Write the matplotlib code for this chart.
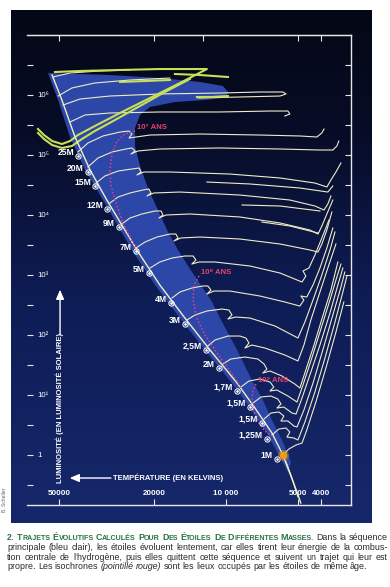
import numpy as np
import matplotlib
matplotlib.use("Agg")
import matplotlib.pyplot as plt
from matplotlib.patches import Polygon
from matplotlib import font_manager as fm

W, H, DPI = 390, 587, 100

# ---------------- data : log10 Teff [K] , log10 L [L_sun] ----------------
ZAMS_T = [4.728, 4.687, 4.632, 4.569, 4.499, 4.373, 4.277, 4.172, 4.067, 3.954, 3.879, 3.808, 3.762, 3.703, 3.687]
ZAMS_L = [6.333, 5.917, 5.300, 4.750, 4.250, 3.417, 2.833, 2.283, 1.750, 1.200, 0.783, 0.367, 0.000, -0.617, -0.800]

LOW_T = [3.749, 3.724, 3.699]
LOW_L = [-0.117, -0.383, -0.700]

BAND_T = [4.745, 4.703, 4.653, 4.590, 4.515, 4.394, 4.297, 4.193, 4.088, 3.975, 3.900, 3.829, 3.779, 3.741,
          3.728, 3.766, 3.808, 3.846, 3.892, 3.954, 4.021, 4.063, 4.109, 4.159, 4.201, 4.243, 4.285, 4.327,
          4.360, 4.381, 4.381, 4.360, 4.318, 4.214, 4.088, 4.017, 3.988, 4.013, 4.109, 4.277, 4.486]
BAND_L = [6.367, 5.917, 5.300, 4.750, 4.250, 3.417, 2.833, 2.283, 1.750, 1.200, 0.783, 0.367, 0.000, -0.283,
          -0.117, 0.250, 0.583, 0.917, 1.250, 1.750, 2.250, 2.583, 2.850, 3.150, 3.417, 3.717, 4.083, 4.450,
          4.817, 5.150, 5.450, 5.667, 5.800, 5.883, 5.917, 5.950, 6.033, 6.150, 6.217, 6.283, 6.333]

TOP1_T = [4.724, 4.653, 4.528, 4.402]
TOP1_L = [6.300, 6.367, 6.400, 6.417]
TOP2_T = [4.703, 4.645, 4.549, 4.402, 4.235]
TOP2_L = [5.983, 6.117, 6.200, 6.250, 6.283]
TOP3_T = [4.682, 4.611, 4.486, 4.277, 4.026, 3.858, 3.762, 3.749, 3.774, 3.942, 4.118]
TOP3_L = [5.833, 5.933, 5.983, 6.017, 6.033, 6.050, 6.050, 6.017, 5.983, 5.967, 5.950]
TOP4_T = [4.653, 4.590, 4.486, 4.277, 4.026, 3.816, 3.741, 3.733, 3.754]
TOP4_L = [5.550, 5.667, 5.700, 5.717, 5.717, 5.733, 5.733, 5.683, 5.650]

M25_T = [4.620, 4.578, 4.515, 4.444, 4.406, 4.394, 4.406, 4.377, 4.318, 4.109, 3.858, 3.691, 3.620, 3.599, 3.590]
M25_L = [5.050, 5.200, 5.317, 5.383, 5.400, 5.350, 5.283, 5.300, 5.333, 5.350, 5.333, 5.317, 5.300, 5.367, 5.433]
M20_T = [4.578, 4.536, 4.477, 4.419, 4.394, 4.381, 4.398, 4.369, 4.277, 4.026, 3.774, 3.607, 3.553, 3.536, 3.528]
M20_L = [4.800, 4.950, 5.050, 5.100, 5.117, 5.067, 5.017, 5.067, 5.100, 5.117, 5.100, 5.083, 5.083, 5.150, 5.233]
M15_T = [4.544, 4.507, 4.452, 4.394, 4.364, 4.356, 4.373, 4.344, 4.235, 3.984, 3.774, 3.628, 3.578, 3.561, 3.540, 3.519]
M15_L = [4.533, 4.650, 4.733, 4.767, 4.783, 4.717, 4.667, 4.717, 4.717, 4.683, 4.617, 4.533, 4.467, 4.583, 4.717, 4.867]
LOOP15_T = [4.080, 3.900, 3.691, 3.574, 3.553]
LOOP15_L = [4.550, 4.517, 4.450, 4.383, 4.483]
M12_T = [4.486, 4.452, 4.402, 4.348, 4.323, 4.314, 4.331, 4.302, 4.193, 3.942, 3.733, 3.628, 3.590, 3.574, 3.561]
M12_L = [4.200, 4.300, 4.367, 4.417, 4.433, 4.367, 4.317, 4.367, 4.383, 4.333, 4.250, 4.150, 4.083, 4.183, 4.317]
LOOP12_T = [3.933, 3.774, 3.607]
LOOP12_L = [4.167, 4.150, 4.067]
M9_T = [4.436, 4.402, 4.352, 4.297, 4.272, 4.264, 4.281, 4.251, 4.151, 3.942, 3.774, 3.649, 3.615, 3.599, 3.578, 3.553]
M9_L = [3.850, 3.950, 4.017, 4.067, 4.067, 4.000, 3.950, 4.000, 4.017, 3.967, 3.867, 3.750, 3.683, 3.817, 4.017, 4.250]
LOOP9_T = [3.850, 3.733, 3.615]
LOOP9_L = [3.883, 3.817, 3.700]
M7_T = [4.377, 4.339, 4.289, 4.235, 4.210, 4.201, 4.218, 4.189, 4.109, 3.942, 3.774, 3.649, 3.615, 3.599, 3.578, 3.557]
M7_L = [3.450, 3.550, 3.633, 3.683, 3.683, 3.617, 3.567, 3.617, 3.633, 3.600, 3.517, 3.417, 3.383, 3.517, 3.750, 4.050]
M5_T = [4.318, 4.277, 4.226, 4.172, 4.138, 4.126, 4.143, 4.113, 4.046, 3.900, 3.774, 3.682, 3.666, 3.678, 3.653, 3.628, 3.599, 3.569]
M5_L = [3.117, 3.217, 3.283, 3.317, 3.317, 3.250, 3.183, 3.217, 3.217, 3.150, 3.033, 2.883, 2.983, 3.067, 3.117, 3.333, 3.617, 3.917]
M4_T = [4.226, 4.193, 4.143, 4.097, 4.076, 4.063, 4.080, 4.051, 3.984, 3.858, 3.754, 3.691, 3.674, 3.687, 3.662, 3.636, 3.607, 3.578, 3.553]
M4_L = [2.617, 2.717, 2.783, 2.817, 2.817, 2.750, 2.683, 2.733, 2.733, 2.650, 2.550, 2.483, 2.583, 2.650, 2.633, 2.833, 3.117, 3.450, 3.783]
M3_T = [4.164, 4.130, 4.080, 4.017, 3.988, 3.975, 3.992, 3.959, 3.900, 3.795, 3.699, 3.670, 3.636, 3.599, 3.565, 3.544]
M3_L = [2.250, 2.333, 2.400, 2.433, 2.417, 2.333, 2.267, 2.300, 2.283, 2.150, 1.950, 2.217, 2.583, 3.000, 3.417, 3.717]
M2_5_T = [4.076, 4.046, 3.992, 3.942, 3.917, 3.904, 3.921, 3.892, 3.837, 3.754, 3.699, 3.674, 3.645, 3.607, 3.574, 3.540]
M2_5_L = [1.817, 1.917, 1.983, 1.983, 1.950, 1.867, 1.783, 1.833, 1.783, 1.667, 1.567, 1.833, 2.250, 2.717, 3.117, 3.517]
M2_T = [4.013, 3.980, 3.921, 3.867, 3.841, 3.829, 3.846, 3.816, 3.766, 3.712, 3.691, 3.666, 3.632, 3.595, 3.561, 3.532]
M2_L = [1.517, 1.600, 1.633, 1.600, 1.517, 1.433, 1.367, 1.400, 1.317, 1.183, 1.117, 1.417, 1.833, 2.317, 2.750, 3.217]
M1_7_T = [3.938, 3.904, 3.858, 3.816, 3.800, 3.816, 3.787, 3.741, 3.703, 3.678, 3.641, 3.607, 3.569, 3.540, 3.519]
M1_7_L = [1.133, 1.233, 1.267, 1.217, 1.133, 1.067, 1.083, 0.983, 0.883, 1.167, 1.617, 2.050, 2.533, 2.917, 3.183]
M1_5A_T = [3.887, 3.854, 3.812, 3.783, 3.770, 3.787, 3.758, 3.724, 3.707, 3.682, 3.645, 3.607, 3.565, 3.532, 3.511]
M1_5A_L = [0.867, 0.967, 0.983, 0.933, 0.850, 0.783, 0.800, 0.700, 0.683, 0.950, 1.383, 1.833, 2.367, 2.833, 3.117]
M1_5B_T = [3.841, 3.812, 3.779, 3.758, 3.770, 3.741, 3.716, 3.703, 3.674, 3.636, 3.595, 3.553, 3.519, 3.503]
M1_5B_L = [0.600, 0.700, 0.717, 0.650, 0.567, 0.567, 0.483, 0.467, 0.750, 1.200, 1.750, 2.333, 2.800, 3.050]
M1_25_T = [3.808, 3.779, 3.749, 3.733, 3.745, 3.716, 3.699, 3.670, 3.628, 3.586, 3.544, 3.511, 3.494]
M1_25_L = [0.333, 0.433, 0.450, 0.383, 0.300, 0.283, 0.250, 0.550, 1.050, 1.617, 2.217, 2.717, 2.983]
M1_T = [3.762, 3.737, 3.707, 3.682, 3.662, 3.624, 3.582, 3.540, 3.507]
M1_L = [0.000, 0.100, 0.167, 0.200, 0.417, 0.883, 1.450, 2.050, 2.550]

YG1_T = [4.716, 4.611, 4.444, 4.277, 4.080, 4.193, 4.318, 4.444, 4.549, 4.620, 4.653, 4.687, 4.728, 4.762, 4.787]
YG1_L = [6.383, 6.400, 6.417, 6.433, 6.433, 6.200, 5.950, 5.700, 5.483, 5.333, 5.233, 5.183, 5.233, 5.333, 5.433]
YG2_T = [4.151, 4.256, 4.360, 4.465, 4.549, 4.603, 4.645, 4.687, 4.728, 4.762, 4.787]
YG2_L = [6.267, 6.050, 5.817, 5.583, 5.400, 5.267, 5.150, 5.117, 5.167, 5.267, 5.367]
YG3_T = [4.444, 4.339, 4.235]
YG3_L = [6.217, 6.233, 6.250]
YG4_T = [4.122, 4.059, 3.992]
YG4_L = [5.967, 5.967, 5.983]
YG5_T = [4.214, 4.109, 3.992]
YG5_L = [6.350, 6.333, 6.300]

ISO7_T = [4.381, 4.423, 4.456, 4.477, 4.486, 4.482, 4.465, 4.431, 4.390, 4.369]
ISO7_L = [5.400, 5.350, 5.233, 5.033, 4.750, 4.500, 4.250, 3.867, 3.533, 3.383]
ISO8_T = [4.113, 4.134, 4.138, 4.122, 4.088, 4.046, 4.005, 3.963, 3.938]
ISO8_L = [2.983, 2.833, 2.583, 2.283, 2.000, 1.750, 1.517, 1.283, 1.117]
ISO9_T = [3.875, 3.887, 3.892, 3.883, 3.862, 3.837, 3.808]
ISO9_L = [1.183, 1.067, 0.917, 0.717, 0.533, 0.400, 0.317]
ISO_LABELS = ["10\u2077 ANS", "10\u2078 ANS", "10\u2079 ANS"]

MASS_LABELS = ["25M", "20M", "15M", "12M", "9M", "7M", "5M", "4M", "3M", "2,5M", "2M", "1,7M",
               "1,5M", "1,5M", "1,25M", "1M"]
MASS_T = [4.620, 4.578, 4.549, 4.498, 4.448, 4.377, 4.322, 4.230, 4.172, 4.084, 4.030, 3.954,
          3.900, 3.850, 3.829, 3.787]
MASS_L = [4.983, 4.717, 4.483, 4.100, 3.800, 3.400, 3.033, 2.533, 2.183, 1.750, 1.450, 1.067,
          0.800, 0.533, 0.267, -0.067]
SUN_T, SUN_L = [3.762], [0.0]

XTICK_K = [50000, 20000, 10000, 5000, 4000]
XTICK_LABELS = ["50000", "20000", "10 000", "5000", "4000"]
XTOP_K = [50000, 20000, 12500, 5000, 4000]
YTICK_EXP = [0, 1, 2, 3, 4, 5, 6]
YTICK_LABELS = ["1", "10\u00b9", "10\u00b2", "10\u00b3", "10\u2074", "10\u2075", "10\u2076"]

# ---------------- fonts ----------------
names = {f.name for f in fm.fontManager.ttflist}
NARROW = "Liberation Sans Narrow" if "Liberation Sans Narrow" in names else "Liberation Sans"
LAB_FONT = [NARROW, "DejaVu Sans"]

# ---------------- figure ----------------
fig = plt.figure(figsize=(W / DPI, H / DPI), dpi=DPI, facecolor="white")

# dark panel background (gradient)
bg = fig.add_axes([11 / W, 1 - 523 / H, 361 / W, 513 / H])
stops = np.array([0.0, 0.25, 0.55, 1.0])
cols = np.array([[4, 7, 20], [7, 13, 40], [14, 28, 84], [22, 40, 108]]) / 255.0
yy = np.linspace(0, 1, 256)
grad = np.stack([np.interp(yy, stops, cols[:, k]) for k in range(3)], axis=1)
bg.imshow(grad[:, None, :], aspect="auto", extent=[0, 1, 1, 0])
bg.set_xlim(0, 1); bg.set_ylim(1, 0)
bg.axis("off")

ax = fig.add_axes([27 / W, 1 - 505 / H, 324 / W, 470 / H])
ax.set_facecolor("none")
ax.set_xlim(4.833, 3.477)
ax.set_ylim(-0.833, 7.0)

# main-sequence band
ax.add_patch(Polygon(np.column_stack([BAND_T, BAND_L]), closed=True,
                     facecolor="#2c47a8", edgecolor="none", zorder=1))

TRACK_C = "#eeebc8"
tracks = [(TOP1_T, TOP1_L), (TOP2_T, TOP2_L), (TOP3_T, TOP3_L), (TOP4_T, TOP4_L),
          (M25_T, M25_L), (M20_T, M20_L), (M15_T, M15_L), (LOOP15_T, LOOP15_L),
          (M12_T, M12_L), (LOOP12_T, LOOP12_L), (M9_T, M9_L), (LOOP9_T, LOOP9_L),
          (M7_T, M7_L), (M5_T, M5_L), (M4_T, M4_L), (M3_T, M3_L), (M2_5_T, M2_5_L),
          (M2_T, M2_L), (M1_7_T, M1_7_L), (M1_5A_T, M1_5A_L), (M1_5B_T, M1_5B_L),
          (M1_25_T, M1_25_L), (M1_T, M1_L), (LOW_T, LOW_L)]
for t, l in tracks:
    ax.plot(t, l, color=TRACK_C, lw=0.8, solid_joinstyle="round", zorder=3)

YG_C = "#c9df55"
for t, l in [(YG1_T, YG1_L), (YG2_T, YG2_L), (YG3_T, YG3_L), (YG4_T, YG4_L), (YG5_T, YG5_L)]:
    ax.plot(t, l, color=YG_C, lw=1.5, solid_joinstyle="round", zorder=4)

ax.plot(ZAMS_T, ZAMS_L, color="#f1efc0", lw=1.0, zorder=4)

ISO_C = "#e0408e"
for (t, l), lab in zip([(ISO7_T, ISO7_L), (ISO8_T, ISO8_L), (ISO9_T, ISO9_L)], ISO_LABELS):
    ax.plot(t, l, color=ISO_C, lw=1.1, ls=(0, (1, 1.4)), zorder=5)
    ax.annotate(lab, (t[0], l[0]), xytext=(1.5, 2.2), textcoords="offset points",
                ha="left", va="center", color="#e8406e", fontsize=5.6,
                fontweight="bold", family=LAB_FONT, zorder=8)

# mass markers
ax.plot(MASS_T, MASS_L, ls="none", marker="o", ms=3.8, mfc="none", mec="white", mew=0.7, zorder=6)
ax.plot(MASS_T, MASS_L, ls="none", marker="o", ms=0.9, mfc="white", mec="white", zorder=6)
for t, l, lab in zip(MASS_T, MASS_L, MASS_LABELS):
    ax.annotate(lab, (t, l), xytext=(-2.8, 2.6), textcoords="offset points", ha="right",
                va="center", color="white", fontsize=6.2, fontweight="bold",
                family=LAB_FONT, zorder=8)

# the Sun
ax.plot(SUN_T, SUN_L, ls="none", marker="o", ms=8, color="#ffb21a", alpha=0.35, mew=0, zorder=7)
ax.plot(SUN_T, SUN_L, ls="none", marker="o", ms=5.2, color="#f79a0c", mew=0, zorder=7)

# axes frame & ticks
for s in ["top", "bottom", "right"]:
    ax.spines[s].set_color("#e6e6e6")
    ax.spines[s].set_linewidth(1.0)
ax.spines["left"].set_visible(False)
ax.set_xticks(np.log10(XTICK_K))
ax.set_yticks(np.arange(-0.5, 6.51, 0.5))
ax.tick_params(axis="both", direction="in", length=4.2, width=0.8, color="#e6e6e6",
               labelbottom=False, labelleft=False, left=True, right=True, top=False)
sec = ax.secondary_xaxis("top", functions=(lambda v: v, lambda v: v))
sec.set_xticks(np.log10(XTOP_K))
sec.tick_params(direction="in", length=4.2, width=0.8, color="#e6e6e6", labeltop=False)
sec.spines["top"].set_color("#e6e6e6")

for k, lab in zip(XTICK_K, XTICK_LABELS):
    ax.text(np.log10(k), 0.024, lab, transform=ax.get_xaxis_transform(), ha="center",
            va="center", color="white", fontsize=5.8, fontweight="bold", family=LAB_FONT)
for e, lab in zip(YTICK_EXP, YTICK_LABELS):
    ax.text(0.031, e, lab, transform=ax.get_yaxis_transform(), ha="left", va="center",
            color="white", fontsize=5.6, family=LAB_FONT)

# axis titles with arrows
ax.text(0.102, 0.2074, "LUMINOSITÉ (EN LUMINOSITÉ SOLAIRE)", rotation=90, ha="center",
        va="center", transform=ax.transAxes, color="white", fontsize=5.5,
        fontweight="bold", family=LAB_FONT)
ax.annotate("", xy=(0.102, 0.458), xytext=(0.102, 0.362), xycoords="axes fraction",
            arrowprops=dict(arrowstyle="-|>,head_length=0.7,head_width=0.3", color="white",
                            lw=1.0, shrinkA=0, shrinkB=0, mutation_scale=8))
ax.text(0.265, 0.0574, "TEMPÉRATURE (EN KELVINS)", ha="left", va="center",
        transform=ax.transAxes, color="white", fontsize=5.5, fontweight="bold", family=LAB_FONT)
ax.annotate("", xy=(0.132, 0.0574), xytext=(0.259, 0.0574), xycoords="axes fraction",
            arrowprops=dict(arrowstyle="-|>,head_length=0.7,head_width=0.3", color="white",
                            lw=1.0, shrinkA=0, shrinkB=0, mutation_scale=8))

# credit
fig.text(5 / W, 1 - 500 / H, "B. Scheller", rotation=90, ha="center", va="center",
         fontsize=3.6, color="#666666", family=LAB_FONT)

# ---------------- caption (justified) ----------------
renderer = fig.canvas.get_renderer()
GREEN = "#2a7446"
BODY_C = "#2a2a2a"
L2 = "principale (bleu clair), les étoiles évoluent lentement, car elles tirent leur énergie de la combus-"
probe = fig.text(0, 0, L2, fontsize=6.5, family=NARROW)
pw = probe.get_window_extent(renderer).width
probe.remove()
FS = min(7.0, 6.5 * 372.0 / pw)

body = dict(fontsize=FS, family=NARROW, color=BODY_C)
ital = dict(fontsize=FS, family=NARROW, color=BODY_C, style="italic")
big = dict(fontsize=FS, family=NARROW, color=GREEN, fontweight="bold")
small = dict(fontsize=FS * 0.8, family=NARROW, color=GREEN, fontweight="bold")


def sc(word):
    return [(word[0], big), (word[1:], small)] if len(word) > 1 else [(word, big)]


def plain(text, props=body):
    return [[(w, props)] for w in text.split()]


def place_line(words, y_px, x0=7.0, x1=388.0, justify=True):
    items = []
    for word in words:
        segs, wsum = [], 0.0
        for txt, props in word:
            t = fig.text(0, 0, txt, ha="left", va="baseline", **props)
            w = t.get_window_extent(renderer).width
            segs.append((t, w))
            wsum += w
        items.append((segs, wsum))
    total = sum(w for _, w in items)
    n = len(items)
    gap = (x1 - x0 - total) / (n - 1) if (justify and n > 1) else FS * 1.389 * 0.26
    x = x0
    for segs, _ in items:
        for t, w in segs:
            t.set_position((x / W, 1 - y_px / H))
            x += w
        x += gap


line1 = [[("2.", big)]] + [sc(w) for w in "TRAJETS ÉVOLUTIFS CALCULÉS POUR DES ÉTOILES DE DIFFÉRENTES MASSES.".split()] \
        + plain("Dans la séquence")
place_line(line1, 540)
place_line(plain(L2), 550)
place_line(plain("tion centrale de l\u2019hydrogène, puis elles quittent cette séquence et suivent un trajet qui leur est"), 560)
line4 = plain("propre. Les isochrones") + plain("(pointillé rouge)", ital) + \
        plain("sont les lieux occupés par les étoiles de même âge.")
place_line(line4, 569, justify=False)

fig.savefig("out.png", dpi=DPI, facecolor="white")
